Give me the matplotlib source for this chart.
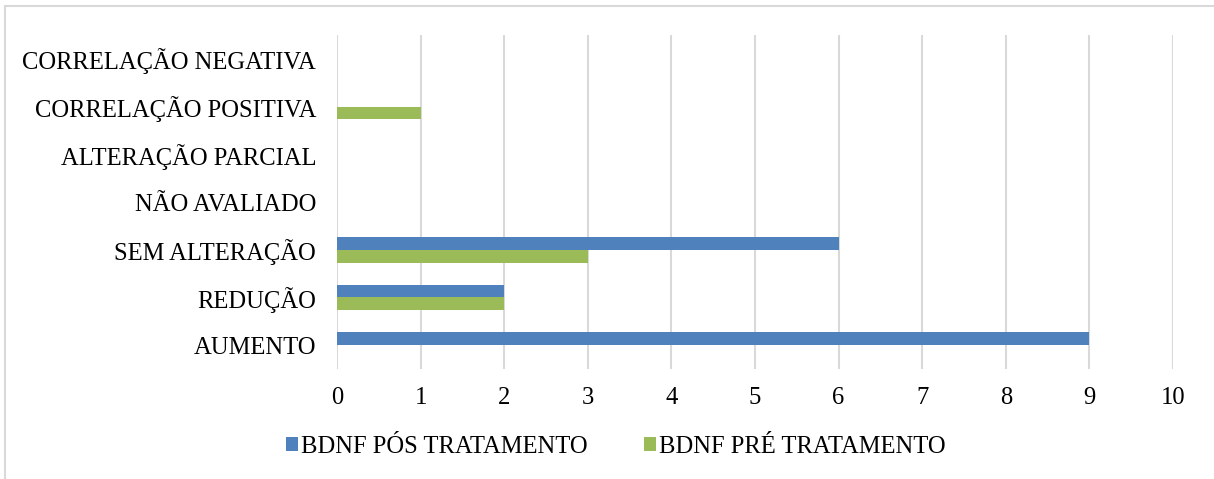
import matplotlib.pyplot as plt
import numpy as np
from matplotlib.patches import Rectangle

# categorias (de baixo para cima) e contagens por série
categorias = ['AUMENTO', 'REDUÇÃO', 'SEM ALTERAÇÃO', 'NÃO AVALIADO',
              'ALTERAÇÃO PARCIAL', 'CORRELAÇÃO POSITIVA', 'CORRELAÇÃO NEGATIVA']
bdnf_pos = [9, 2, 6, 0, 0, 0, 0]
bdnf_pre = [0, 2, 3, 0, 0, 1, 0]
ticks_x = [0, 1, 2, 3, 4, 5, 6, 7, 8, 9, 10]

plt.rcParams['font.family'] = ['Liberation Serif', 'DejaVu Serif']
fs = 17.7

fig = plt.figure(figsize=(12.14, 4.79), dpi=100)
ax = fig.add_axes([0.2776, 0.2296, 0.6886, 0.6973])

# moldura cinza do gráfico
fig.patches.append(Rectangle((5 / 1214, -0.1), 1.2, 1 - 6 / 479 + 0.1,
                             transform=fig.transFigure, fill=False,
                             edgecolor='#d9d9d9', linewidth=1.5))

y = np.arange(len(categorias))
h = 0.27
ax.barh(y + h / 2, bdnf_pos, height=h, color='#4f81bd', label='BDNF PÓS TRATAMENTO', zorder=3)
ax.barh(y - h / 2, bdnf_pre, height=h, color='#9bbb59', label='BDNF PRÉ TRATAMENTO', zorder=3)

ax.set_xlim(0, 10)
ax.set_ylim(-0.5, len(categorias) - 0.5)
ax.set_xticks(ticks_x)
ax.set_yticks(y)
ax.set_yticklabels(categorias)
ax.tick_params(axis='both', length=0, labelsize=fs, colors='black')
ax.tick_params(axis='y', pad=15)
ax.tick_params(axis='x', pad=13)
ax.grid(axis='x', color='#d9d9d9', linewidth=1.5, zorder=0)
for s in ax.spines.values():
    s.set_visible(False)

fig.legend(loc='center', bbox_to_anchor=(0.507, 1 - 447 / 479), ncol=2, frameon=False,
           fontsize=fs, handlelength=0.5, handleheight=0.5, handletextpad=0.1,
           columnspacing=2.3)

fig.savefig('out.png', dpi=100)
